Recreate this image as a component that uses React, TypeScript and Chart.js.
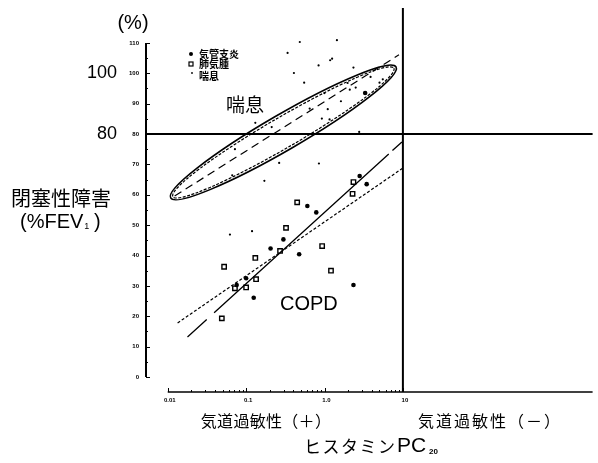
import React, { useEffect, useRef } from "react";
import { Chart, registerables } from "chart.js";

Chart.register(...registerables);

// ---- data ----
const bronchitisX = [0.299, 0.205, 0.475, 0.1, 0.604, 2.81, 3.45, 0.785, 0.0757, 0.125, 2.34, 3.3];
const bronchitisY = [45.3, 42.3, 40.4, 32.5, 56.3, 66.2, 63.5, 54.2, 30.3, 26.1, 30.3, 93.5];

const emphysemaX = [0.323, 0.131, 0.0524, 0.271, 0.448, 2.34, 2.28, 0.933, 1.21, 0.072, 0.1, 0.134, 0.049];
const emphysemaY = [49.1, 39.2, 36.3, 41.5, 57.5, 64.2, 60.3, 43.1, 35.0, 29.2, 29.5, 32.2, 19.3];

const asthmaX = [0.484, 0.338, 0.407, 0.55, 1.44, 1.25, 1.18, 0.84, 2.34, 1.97, 2.1, 2.5, 1.0, 3.87, 5.03, 5.54, 1.62, 0.647, 1.1, 0.925, 1.16, 2.77, 0.131, 0.212, 0.072, 0.0665, 0.171, 0.264, 0.0622, 0.119, 0.849];
const asthmaY = [110.3, 106.7, 100.1, 96.9, 110.9, 104.8, 104.3, 102.6, 101.9, 96.8, 94.6, 95.3, 93.5, 98.8, 96.9, 98.0, 90.8, 88.4, 88.2, 85.1, 84.8, 80.7, 83.7, 82.3, 75.0, 66.4, 64.6, 70.5, 46.9, 48.0, 70.3];

const asthmaLineX = [0.01225, 8.91];
const asthmaLineY = [59.6, 106.1];
const copdSolidX = [0.01787, 9.72];
const copdSolidY = [13.2, 77.4];
const copdDottedX = [0.01337, 10];
const copdDottedY = [17.8, 68.8];
const ellipseTipX = [0.01091, 8.17];
const ellipseTipY = [58.96, 102.1];

const yTickValues = [0, 10, 20, 30, 40, 50, 60, 70, 80, 90, 100, 110];
const xTickValues = [0.01, 0.1, 1, 10];
const xTickLabels = ["0.01", "0.1", "1.0", "10"];
const bigYLabels = [100, 80];
const thresholdX = 10;
const thresholdY = 80;
const xMin = 0.00513;
const xMax = 2630;
const yMin = -4.94;
const yMax = 121.5;

const legendLabels = ["気管支炎", "肺気腫", "喘息"];

const JP = '"Noto Sans CJK JP", "Noto Sans", sans-serif';
const LAT = '"Liberation Sans", Arial, sans-serif';

const pts = (xs: number[], ys: number[]) => xs.map((x, i) => ({ x, y: ys[i] }));

const overlay = {
  id: "overlay",
  beforeDatasetsDraw(chart: any) {
    const { ctx, chartArea } = chart;
    const x = chart.scales.x;
    const y = chart.scales.y;
    ctx.save();
    ctx.strokeStyle = "#000";
    ctx.fillStyle = "#000";
    ctx.setLineDash([]);

    // y axis (0..110)
    const ax = chartArea.left + 1;
    const yTop = y.getPixelForValue(yTickValues[yTickValues.length - 1]);
    const yBot = y.getPixelForValue(yTickValues[0]);
    ctx.lineWidth = 2;
    ctx.beginPath();
    ctx.moveTo(ax, yTop);
    ctx.lineTo(ax, yBot);
    ctx.stroke();
    ctx.lineWidth = 1;
    yTickValues.forEach((v) => {
      const py = Math.round(y.getPixelForValue(v)) + 0.5;
      ctx.beginPath();
      ctx.moveTo(ax, py);
      ctx.lineTo(ax + 4, py);
      ctx.stroke();
    });
    for (let v = 5; v < 110; v += 10) {
      const py = Math.round(y.getPixelForValue(v)) + 0.5;
      ctx.beginPath();
      ctx.moveTo(ax, py);
      ctx.lineTo(ax + 2, py);
      ctx.stroke();
    }
    ctx.font = `bold 6px ${LAT}`;
    ctx.textAlign = "right";
    ctx.textBaseline = "middle";
    yTickValues.forEach((v) => {
      ctx.fillText(String(v), ax - 7, y.getPixelForValue(v));
    });

    // x axis from 0.01 to right
    const bx = chartArea.bottom;
    const x0 = x.getPixelForValue(xTickValues[0]);
    ctx.lineWidth = 1.6;
    ctx.beginPath();
    ctx.moveTo(x0, bx);
    ctx.lineTo(chartArea.right, bx);
    ctx.stroke();
    ctx.lineWidth = 1;
    xTickValues.forEach((v) => {
      const px = Math.round(x.getPixelForValue(v)) + 0.5;
      ctx.beginPath();
      ctx.moveTo(px, bx);
      ctx.lineTo(px, bx - 4);
      ctx.stroke();
    });
    for (let d = 0.01; d < 10; d *= 10) {
      for (let k = 2; k <= 9; k++) {
        const px = Math.round(x.getPixelForValue(d * k)) + 0.5;
        ctx.beginPath();
        ctx.moveTo(px, bx);
        ctx.lineTo(px, bx - 2);
        ctx.stroke();
      }
    }
    ctx.font = `bold 6px ${LAT}`;
    ctx.textAlign = "center";
    ctx.textBaseline = "middle";
    xTickValues.forEach((v, i) => {
      ctx.fillText(xTickLabels[i], x.getPixelForValue(v) + 2, bx + 8);
    });

    // threshold lines
    ctx.lineWidth = 2;
    const tx = x.getPixelForValue(thresholdX);
    ctx.beginPath();
    ctx.moveTo(tx, chartArea.top);
    ctx.lineTo(tx, bx);
    ctx.stroke();
    const ty = y.getPixelForValue(thresholdY);
    ctx.beginPath();
    ctx.moveTo(ax, ty);
    ctx.lineTo(chartArea.right, ty);
    ctx.stroke();

    // ellipse around asthma
    const ex1 = x.getPixelForValue(ellipseTipX[0]);
    const ey1 = y.getPixelForValue(ellipseTipY[0]);
    const ex2 = x.getPixelForValue(ellipseTipX[1]);
    const ey2 = y.getPixelForValue(ellipseTipY[1]);
    const cx = (ex1 + ex2) / 2;
    const cy = (ey1 + ey2) / 2;
    const a = Math.hypot(ex2 - ex1, ey2 - ey1) / 2;
    const ang = Math.atan2(ey2 - ey1, ex2 - ex1);
    ctx.lineWidth = 1.6;
    ctx.beginPath();
    ctx.ellipse(cx, cy, a, 17.8, ang, 0, Math.PI * 2);
    ctx.stroke();
    ctx.lineWidth = 1.2;
    ctx.setLineDash([3, 1.5]);
    ctx.beginPath();
    ctx.ellipse(cx, cy, a - 2.5, 15.2, ang, 0, Math.PI * 2);
    ctx.stroke();
    ctx.setLineDash([]);

    ctx.restore();
  },
  afterDatasetsDraw(chart: any) {
    const { ctx } = chart;
    const y = chart.scales.y;
    ctx.save();
    ctx.fillStyle = "#000";
    ctx.strokeStyle = "#000";
    ctx.textBaseline = "middle";

    // (%) and big y labels
    ctx.font = `20px ${LAT}`;
    ctx.textAlign = "center";
    ctx.fillText("(%)", 133, 23);
    ctx.font = `18px ${LAT}`;
    ctx.textAlign = "right";
    bigYLabels.forEach((v) => ctx.fillText(String(v), 117, y.getPixelForValue(v)));

    // y title
    ctx.font = `20px ${JP}`;
    ctx.textAlign = "center";
    ctx.fillText("閉塞性障害", 61, 198);
    ctx.textAlign = "left";
    ctx.font = `20px ${LAT}`;
    ctx.fillText("(%FEV", 20, 222);
    const w1 = ctx.measureText("(%FEV").width;
    ctx.font = `9px ${LAT}`;
    ctx.fillText("1", 20 + w1 + 1, 227);
    ctx.font = `20px ${LAT}`;
    ctx.fillText(")", 94, 222);

    // x labels
    ctx.font = `16px ${JP}`;
    ctx.textAlign = "center";
    (ctx as any).letterSpacing = "0.3px";
    ctx.fillText("気道過敏性（＋）", 266, 421);
    (ctx as any).letterSpacing = "2px";
    ctx.fillText("気道過敏性（－）", 490, 421);
    (ctx as any).letterSpacing = "1.5px";
    ctx.textAlign = "left";
    ctx.font = `17px ${JP}`;
    ctx.fillText("ヒスタミン", 304, 447);
    (ctx as any).letterSpacing = "0px";
    ctx.font = `21px ${LAT}`;
    ctx.fillText("PC", 397, 446);
    ctx.font = `bold 8px ${LAT}`;
    ctx.fillText("20", 429, 452);

    // in-plot labels
    ctx.font = `19px ${JP}`;
    ctx.textAlign = "center";
    ctx.fillText("喘息", 245, 105);
    ctx.font = `20px ${LAT}`;
    ctx.textAlign = "left";
    ctx.fillText("COPD", 280, 304);

    // legend
    const rows = [54, 64, 76];
    ctx.font = `bold 10px ${JP}`;
    legendLabels.forEach((t, i) => ctx.fillText(t, 199, rows[i]));
    ctx.beginPath();
    ctx.arc(191, rows[0], 2, 0, Math.PI * 2);
    ctx.fill();
    ctx.lineWidth = 1.2;
    ctx.strokeRect(189, rows[1] - 2, 4, 4);
    ctx.beginPath();
    ctx.arc(192, rows[2] - 3, 0.9, 0, Math.PI * 2);
    ctx.fill();

    ctx.restore();
  },
};

export default function App() {
  const ref = useRef<HTMLCanvasElement>(null);
  useEffect(() => {
    const chart = new Chart(ref.current as HTMLCanvasElement, {
      type: "scatter",
      data: {
        datasets: [
          {
            label: "asthma line",
            data: pts(asthmaLineX, asthmaLineY),
            showLine: true,
            borderColor: "#000",
            borderWidth: 1.2,
            borderDash: [8, 5],
            pointRadius: 0,
          },
          {
            label: "COPD solid",
            data: pts(copdSolidX, copdSolidY),
            showLine: true,
            borderColor: "#000",
            borderWidth: 1.3,
            borderDash: [26, 10, 236, 5, 20, 400],
            pointRadius: 0,
          },
          {
            label: "COPD dotted",
            data: pts(copdDottedX, copdDottedY),
            showLine: true,
            borderColor: "#000",
            borderWidth: 1.2,
            borderDash: [3, 2],
            pointRadius: 0,
          },
          {
            label: "気管支炎",
            data: pts(bronchitisX, bronchitisY),
            pointStyle: "circle",
            pointRadius: 2.3,
            backgroundColor: "#000",
            borderColor: "#000",
            borderWidth: 0,
          },
          {
            label: "肺気腫",
            data: pts(emphysemaX, emphysemaY),
            pointStyle: "rect",
            pointRadius: 3.1,
            backgroundColor: "#fff",
            borderColor: "#000",
            borderWidth: 1.4,
          },
          {
            label: "喘息",
            data: pts(asthmaX, asthmaY),
            pointStyle: "circle",
            pointRadius: 1.1,
            backgroundColor: "#000",
            borderColor: "#000",
            borderWidth: 0,
          },
        ],
      },
      options: {
        responsive: false,
        animation: false,
        devicePixelRatio: 1,
        layout: { padding: { left: 145, right: 0, top: 8, bottom: 71 } },
        plugins: { legend: { display: false }, tooltip: { enabled: false } },
        scales: {
          x: { type: "logarithmic", min: xMin, max: xMax, display: false },
          y: { type: "linear", min: yMin, max: yMax, display: false },
        },
      },
      plugins: [overlay],
    } as any);
    return () => chart.destroy();
  }, []);
  return (
    <div style={{ position: "absolute", left: 0, top: 0, width: 598, height: 463, background: "#fff" }}>
      <canvas ref={ref} width={598} height={463} style={{ display: "block", width: 598, height: 463 }} />
    </div>
  );
}
